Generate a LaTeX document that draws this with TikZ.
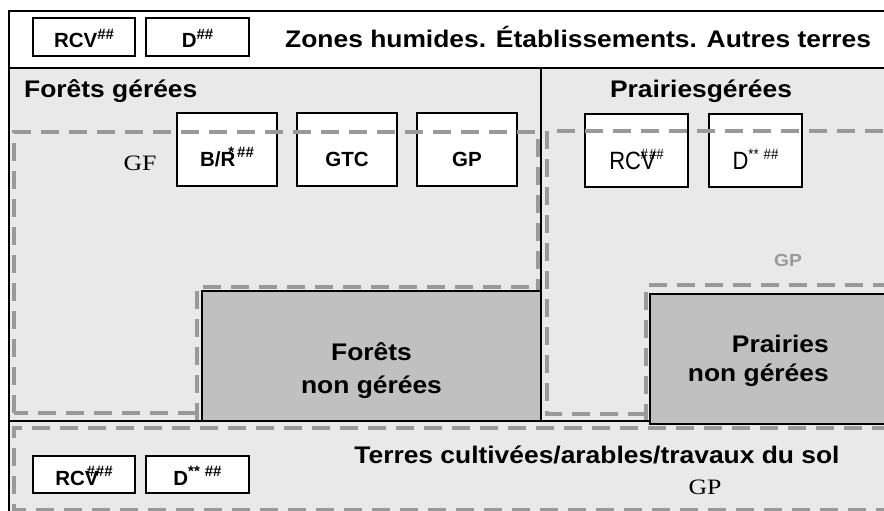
\documentclass[tikz,border=0pt]{standalone}
\usepackage{fontspec}
\usepackage{tikz}
\setmainfont{Liberation Sans}
\newfontfamily\widefont[FakeStretch=1.1]{Liberation Sans}
\newfontfamily\narrowfont[FakeStretch=0.88]{Liberation Sans}
\newfontfamily\widserif[FakeStretch=1.17]{Liberation Serif}
\definecolor{utcatback}{RGB}{233, 233, 233}
\definecolor{utcatunman}{RGB}{192, 192, 192}
\definecolor{utcatdash}{RGB}{153, 153, 153}
\newcommand\supmark[1]{\raisebox{0.42em}{\fontsize{15}{15}\selectfont #1}}

\begin{document}
\begin{tikzpicture}[x=1pt, y=-1pt,
		catbox/.style={draw=black, line width=1.5pt, fill=white, inner sep=0pt, text depth=0pt, font=\bfseries\fontsize{20.5}{23}\selectfont},
		plainbox/.style={catbox, font=\narrowfont\fontsize{25}{28}\selectfont},
		unmanbox/.style={draw=black, line width=1.5pt, fill=utcatunman, inner sep=0pt},
		gpline/.style={draw=utcatdash, line width=4.5pt, dash pattern=on 18pt off 10pt},
		catlabel/.style={inner sep=0pt, font=\widefont\bfseries\fontsize{24}{32}\selectfont},
		seriflabel/.style={inner sep=0pt, font=\widserif\fontsize{22}{26}\selectfont}]
			\useasboundingbox (0, 0) rectangle (884, 511);
			\clip (0, 0) rectangle (884, 511);
			\fill [white] (9, 11) rectangle (890, 68);
			\fill [utcatback] (9, 68) rectangle (890, 520);
			\node [catbox, text height=22pt, minimum width=102pt, minimum height=38pt] (zhrcv) at (84, 37) {RCV\supmark{\#\#}};
			\node [catbox, text height=22pt, minimum width=103pt, minimum height=38pt] (zhd) at (197.5, 37) {D\supmark{\#\#}};
			\node [catbox, text height=34pt, minimum width=100pt, minimum height=73pt] (frbr) at (227, 149.5) {B/R\supmark{\hspace{-7pt}*\hspace{3pt}\#\#}};
			\node [catbox, text height=34pt, minimum width=100pt, minimum height=73pt] (frgtc) at (347, 149.5) {GTC};
			\node [catbox, text height=34pt, minimum width=100pt, minimum height=73pt] (frgp) at (467, 149.5) {GP};
			\node [plainbox, text height=38pt, minimum width=103pt, minimum height=73pt] (prrcv) at (636.5, 150.5) {RCV\supmark{\hspace{-15pt}\#\hspace{1pt}\#\#}};
			\node [plainbox, text height=38pt, minimum width=93pt, minimum height=73pt] (prd) at (755.5, 150.5) {D\supmark{**\hspace{5pt}\#\#}};
			\node [catbox, text height=21pt, minimum width=102pt, minimum height=37pt] (clrcv) at (84, 474.5) {RCV\supmark{\hspace{-12pt}\#\hspace{1pt}\#\#}};
			\node [catbox, text height=21pt, minimum width=103pt, minimum height=37pt] (cld) at (197.5, 474.5) {D\supmark{**\hspace{5pt}\#\#}};
			\draw [gpline] (14, 413) rectangle (538, 132);
			\draw [gpline] (197, 421) -- (197, 287) -- (541, 287);
			\draw [gpline] (646, 414) -- (547, 414) -- (547, 131) -- (890, 131);
			\draw [gpline] (646, 422) -- (646, 285) -- (890, 285);
			\node [unmanbox, minimum width=339pt, minimum height=130pt] (frunman) at (371.5, 356) {};
			\node [unmanbox, minimum width=240pt, minimum height=130pt] (prunman) at (770, 359) {};
			\draw [gpline] (890, 428) -- (14, 428) -- (14, 510) -- (890, 510);
			\draw [line width=1.6pt] (890, 11) -- (9, 11) -- (9, 520);
			\draw [line width=1.6pt] (9, 68) -- (890, 68);
			\draw [line width=1.6pt] (541, 68) -- (541, 421);
			\draw [line width=1.6pt] (9, 421) -- (650, 421);
			\node [catlabel, anchor=base west] (zhlbl) at (285, 48) {Zones humides. Établissements. Autres terres};
			\node [catlabel, anchor=base west] (frlbl) at (24, 97) {Forêts gérées};
			\node [catlabel, anchor=base] (prlbl) at (701, 97) {Prairiesgérées};
			\node [seriflabel, anchor=base] (gflbl) at (140, 170) {GF};
			\node [catlabel, anchor=base, text=utcatdash, font=\widefont\bfseries\fontsize{17.5}{20}\selectfont] (prgplbl) at (788, 266) {GP};
			\node [catlabel, align=center] (frunmanlbl) at ([yshift=-15pt]frunman.center) {Forêts\\[1pt]non gérées};
			\node [catlabel, align=right, anchor=east] (prunmanlbl) at (829, 361) {Prairies\\[-3pt]non gérées};
			\node [catlabel, anchor=base] (cllbl) at (597, 463) {Terres cultivées/arables/travaux du sol};
			\node [seriflabel, anchor=base] (clgplbl) at (705, 494) {GP};
		\end{tikzpicture}
\end{document}
